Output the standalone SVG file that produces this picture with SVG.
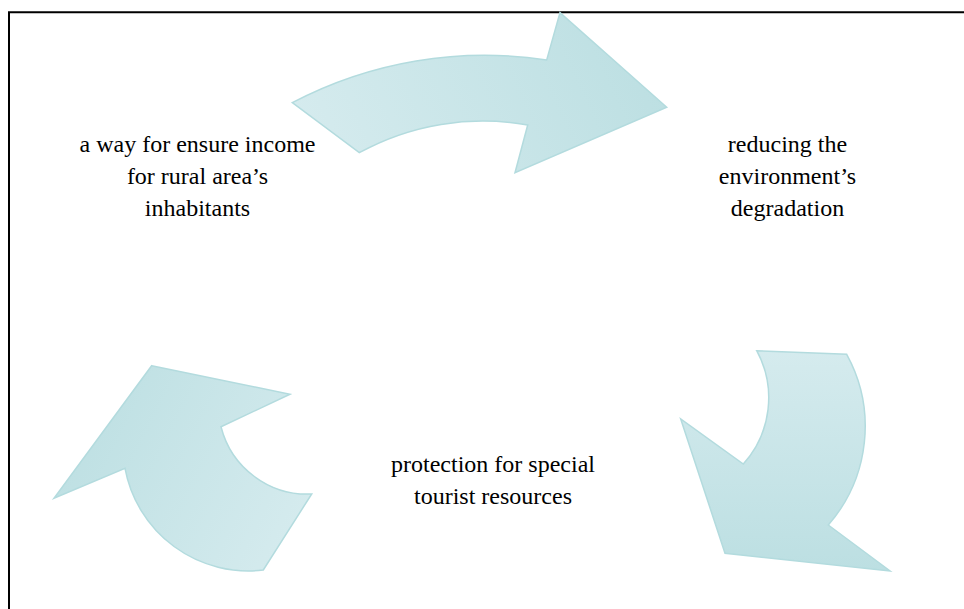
<svg xmlns="http://www.w3.org/2000/svg" width="964" height="609" viewBox="0 0 964 609">
<defs>
<linearGradient id="gTop" x1="0" y1="0.6" x2="1" y2="0.4">
<stop offset="0" stop-color="#d5ebee"/><stop offset="1" stop-color="#bcdfe2"/>
</linearGradient>
<linearGradient id="gRight" x1="0" y1="0" x2="0" y2="1">
<stop offset="0" stop-color="#d5ebee"/><stop offset="1" stop-color="#bcdfe2"/>
</linearGradient>
<linearGradient id="gLeft" x1="0" y1="0.3" x2="1" y2="0.7">
<stop offset="0" stop-color="#bcdfe2"/><stop offset="1" stop-color="#d5ebee"/>
</linearGradient>
<style>
.arrow{stroke:#b3dbde;stroke-width:1.5;stroke-linejoin:miter}
.lbl{font-family:"Liberation Serif","Times New Roman",serif;font-size:24px;fill:#000;text-anchor:middle}
.frame{stroke:#000;stroke-width:2;fill:none}
</style>
</defs>
<path class="frame" d="M9,609 V12.3 H964"/>
<g id="connectors">
<path id="arrow-top" class="arrow" fill="url(#gTop)" d="M292.3,102.7 A413,413 0 0 1 546.7,60 L560,12.7 L666.7,107.3 L515,172.7 L527.7,125 A256,256 0 0 0 359.3,152.7 Z"/>
<path id="arrow-right" class="arrow" fill="url(#gRight)" d="M756.7,350.7 L846.7,354.3 A150,150 0 0 1 828.3,525 L890,571 L725,553.3 L680.7,419 L743.3,464 A98.7,98.7 0 0 0 756.7,350.7 Z"/>
<path id="arrow-left" class="arrow" fill="url(#gLeft)" d="M151.7,365.7 L290,394.3 L221,426.7 A89.4,89.4 0 0 0 311.7,494 L263.3,570 A125.5,125.5 0 0 1 125,468.3 L54,498.3 Z"/>
</g>
<g id="node-income">
<text class="lbl" x="197.5" y="151.7">a way for ensure income</text>
<text class="lbl" x="197.5" y="183.7">for rural area’s</text>
<text class="lbl" x="197.5" y="215.7">inhabitants</text>
</g>
<g id="node-degradation">
<text class="lbl" x="787.5" y="151.7">reducing the</text>
<text class="lbl" x="787.5" y="183.7">environment’s</text>
<text class="lbl" x="787.5" y="215.7">degradation</text>
</g>
<g id="node-protection">
<text class="lbl" x="493" y="471.7">protection for special</text>
<text class="lbl" x="493" y="503.7">tourist resources</text>
</g>
</svg>
